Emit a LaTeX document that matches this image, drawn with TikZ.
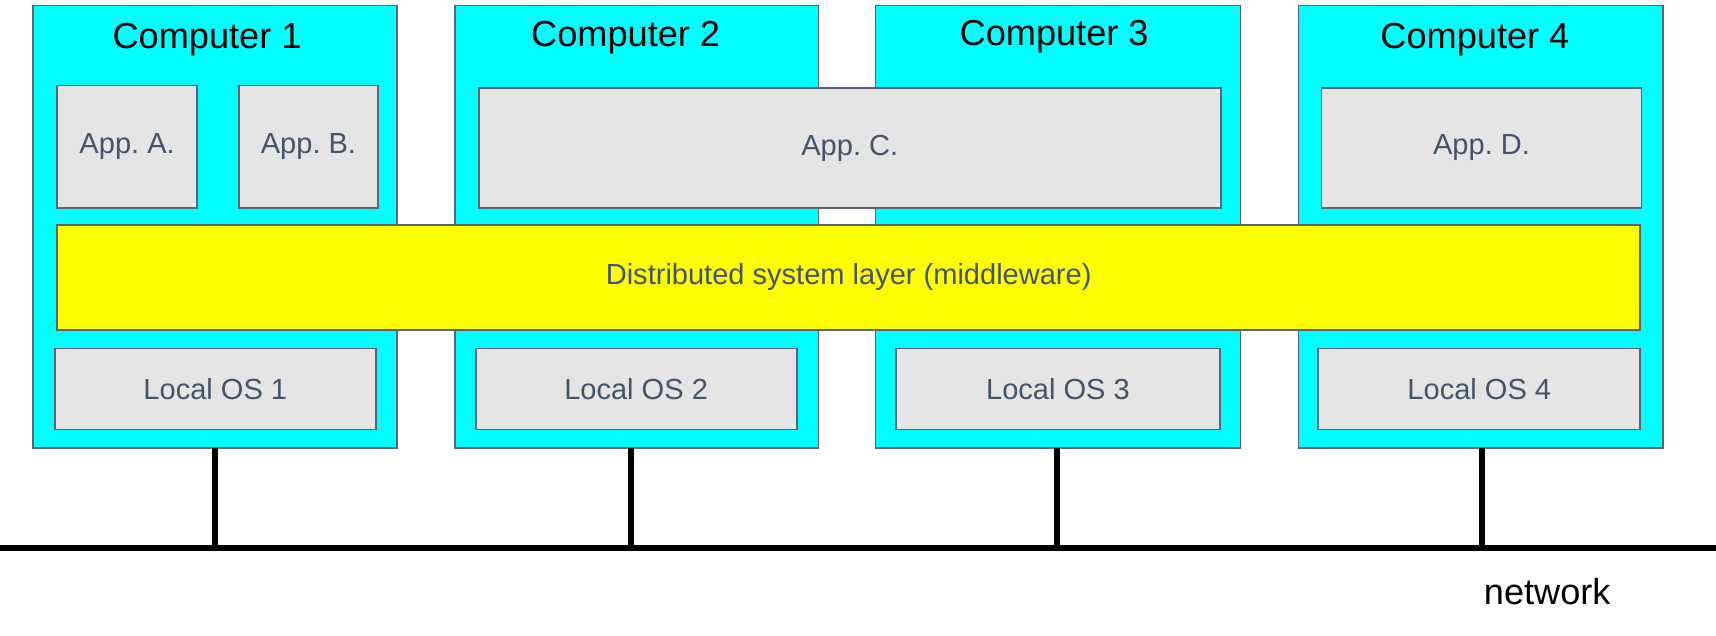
\documentclass[tikz,border=0pt]{standalone}
\usepackage{fontspec}
\setmainfont{Liberation Sans}
\frenchspacing
\definecolor{boxline}{HTML}{5B6475}
\definecolor{apptext}{HTML}{44546A}
\definecolor{appfill}{HTML}{E5E5E5}
\definecolor{compfill}{HTML}{00FFFF}
\definecolor{layerfill}{HTML}{FFFF00}
\begin{document}
\begin{tikzpicture}[x=1pt,y=-1pt,
  compbox/.style={draw=boxline,fill=compfill,line width=1.7pt,inner sep=0pt,outer sep=0pt,anchor=north west,minimum height=404pt},
  appbox/.style={draw=boxline,fill=appfill,line width=1.7pt,inner sep=0pt,outer sep=0pt,anchor=north west},
  layerbox/.style={draw=boxline,fill=layerfill,line width=1.7pt,inner sep=0pt,outer sep=0pt,anchor=north west},
  lbl/.style={text=apptext,font=\fontsize{26.5}{30}\selectfont\frenchspacing,inner sep=0pt},
  titletext/.style={font=\fontsize{33}{38}\selectfont,text=black,inner sep=0pt},
  netline/.style={line width=5.5pt,black}]
\useasboundingbox (0,0) rectangle (1566,579.5);
% computers
\node[compbox,minimum width=332pt] (c1) at (30,5) {};
\node[compbox,minimum width=332pt] (c2) at (415,5) {};
\node[compbox,minimum width=333pt] (c3) at (799,5) {};
\node[compbox,minimum width=333pt] (c4) at (1185,5) {};
\node[titletext] (t1) at (189,36) {Computer 1};
\node[titletext] (t2) at (571,34) {Computer 2};
\node[titletext] (t3) at (962,33) {Computer 3};
\node[titletext] (t4) at (1346,36) {Computer 4};
% applications
\node[appbox,minimum width=128pt,minimum height=112pt] (appA) at (52,78) {};
\node[lbl] (appAt) at (appA.center) {App. A.};
\node[appbox,minimum width=127pt,minimum height=112pt] (appB) at (218,78) {};
\node[lbl] (appBt) at (appB.center) {App. B.};
\node[appbox,minimum width=677pt,minimum height=110pt] (appC) at (437,80) {};
\node[lbl] (appCt) at (appC.center) {App. C.};
\node[appbox,minimum width=292pt,minimum height=110pt] (appD) at (1206,80) {};
\node[lbl] (appDt) at (appD.center) {App. D.};
% middleware
\node[layerbox,minimum width=1445pt,minimum height=96pt] (mw) at (52,205) {};
\node[lbl] (mwt) at (mw.center) {Distributed system layer (middleware)};
% local OS
\node[appbox,minimum width=293pt,minimum height=74pt] (os1) at (50,318) {};
\node[lbl] (os1t) at (os1.center) {Local OS 1};
\node[appbox,minimum width=293pt,minimum height=74pt] (os2) at (434,318) {};
\node[lbl] (os2t) at (os2.center) {Local OS 2};
\node[appbox,minimum width=295pt,minimum height=74pt] (os3) at (818,318) {};
\node[lbl] (os3t) at (os3.center) {Local OS 3};
\node[appbox,minimum width=294pt,minimum height=74pt] (os4) at (1203,318) {};
\node[lbl] (os4t) at (os4.center) {Local OS 4};
% network
\coordinate (netL) at (0,500);
\coordinate (netR) at (1566,500);
\coordinate (n1) at (196,500);
\coordinate (n2) at (576,500);
\coordinate (n3) at (965,500);
\coordinate (n4) at (1352,500);
\draw[netline] (netL) -- (netR);
\draw[netline] (c1.south -| n1) -- (n1);
\draw[netline] (c2.south -| n2) -- (n2);
\draw[netline] (c3.south -| n3) -- (n3);
\draw[netline] (c4.south -| n4) -- (n4);
\node[titletext] (net) at (1412,540) {network};
\end{tikzpicture}
\end{document}
